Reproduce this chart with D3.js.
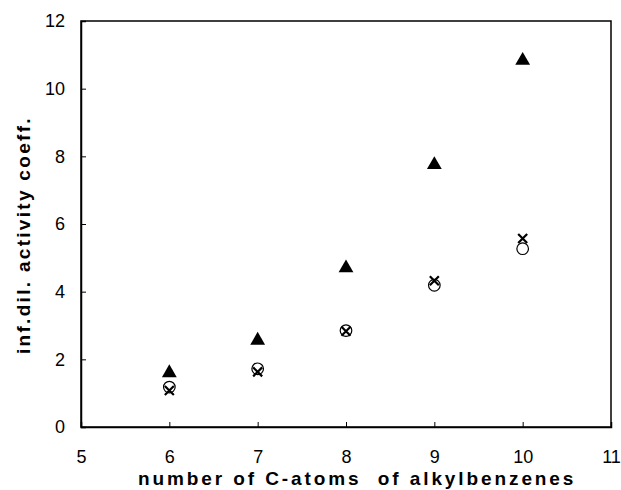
<!DOCTYPE html>
<html><head><meta charset="utf-8">
<script src="https://d3js.org/d3.v7.min.js"></script>
<style>body{margin:0;background:#fff}</style>
</head><body>
<script>
const carbonAtoms = [6, 7, 8, 9, 10];
const triangleSeries = [1.63, 2.59, 4.73, 7.78, 10.86];
const circleSeries = [1.18, 1.72, 2.85, 4.19, 5.27];
const crossSeries = [1.08, 1.63, 2.83, 4.32, 5.57];
const xTicks = [5, 6, 7, 8, 9, 10, 11];
const yTicks = [0, 2, 4, 6, 8, 10, 12];

const W = 621, H = 490;
const pL = 81, pR = 611, pT = 21, pB = 427;
const svg = d3.select("body").append("svg").attr("width", W).attr("height", H);
const x = d3.scaleLinear().domain([5, 11]).range([pL, pR]);
const y = d3.scaleLinear().domain([0, 12]).range([pB, pT]);
const font = "'Liberation Sans', Arial, sans-serif";

// frame
svg.append("rect").attr("x", pL).attr("y", pT).attr("width", pR - pL).attr("height", pB - pT)
  .attr("fill", "none").attr("stroke", "#000").attr("stroke-width", 1.5);

const xAxis = svg.append("g").attr("transform", `translate(0,${pB})`)
  .call(d3.axisBottom(x).tickValues(xTicks).tickSize(-5).tickPadding(14).tickFormat(d3.format("d")));
const yAxis = svg.append("g").attr("transform", `translate(${pL},0)`)
  .call(d3.axisLeft(y).tickValues(yTicks).tickSize(-5).tickPadding(16).tickFormat(d3.format("d")));
[xAxis, yAxis].forEach(g => {
  g.select(".domain").attr("stroke", "#000").attr("stroke-width", 1.5);
  g.selectAll(".tick line").attr("stroke", "#000").attr("stroke-width", 1);
  g.selectAll(".tick text").attr("font-family", font).attr("font-size", 18).attr("fill", "#000");
});
xAxis.selectAll(".tick text").attr("y", 36).attr("dy", 0);

// axis titles
svg.append("text").attr("x", 138).attr("y", 485).attr("text-anchor", "start")
  .attr("font-family", font).attr("font-size", 19).attr("font-weight", "bold")
  .attr("letter-spacing", "2.9px").attr("xml:space", "preserve")
  .text("number of C-atoms  of alkylbenzenes");
svg.append("text").attr("transform", `translate(30,354) rotate(-90)`)
  .attr("text-anchor", "start").attr("font-family", font).attr("font-size", 19).attr("font-weight", "bold")
  .attr("letter-spacing", "2.3px")
  .text("inf.dil. activity coeff.");

// markers
const tri = d3.symbol().type(d3.symbolTriangle).size(95);
svg.append("g").selectAll("path").data(carbonAtoms.map((c, i) => [c, triangleSeries[i]])).join("path")
  .attr("d", tri).attr("transform", d => `translate(${x(d[0])},${y(d[1]) + 1})`).attr("fill", "#000");

svg.append("g").selectAll("circle").data(carbonAtoms.map((c, i) => [c, circleSeries[i]])).join("circle")
  .attr("cx", d => x(d[0])).attr("cy", d => y(d[1])).attr("r", 5.8)
  .attr("fill", "none").attr("stroke", "#000").attr("stroke-width", 1.2);

const cr = 4.5;
svg.append("g").selectAll("path").data(carbonAtoms.map((c, i) => [c, crossSeries[i]])).join("path")
  .attr("d", d => { const cx = x(d[0]), cy = y(d[1]);
    return `M${cx - cr},${cy - cr}L${cx + cr},${cy + cr}M${cx - cr},${cy + cr}L${cx + cr},${cy - cr}`; })
  .attr("stroke", "#000").attr("stroke-width", 2.2).attr("fill", "none");
</script>
</body></html>
